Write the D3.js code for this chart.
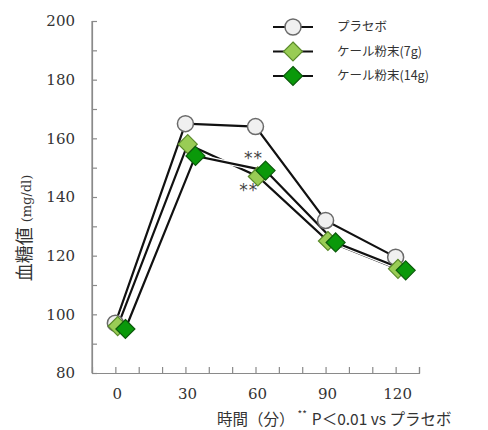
<!DOCTYPE html>
<html><head><meta charset="utf-8">
<script src="https://cdn.jsdelivr.net/npm/d3@7"></script>
<style>
body{margin:0;background:#fff}
.serif{font-family:"DejaVu Serif",serif}
.sans{font-family:"Noto Sans CJK JP",sans-serif}
</style>
</head><body>
<script>
const times = [0, 30, 60, 90, 120];
const placebo = [97, 165, 164, 132, 119.5];
const kale7g = [96, 158, 147, 125, 115.5];
const kale14g = [95, 154, 149, 124.5, 115];
const seriesNames = ["プラセボ", "ケール粉末(7g)", "ケール粉末(14g)"];
const yTicks = [80, 100, 120, 140, 160, 180, 200];
const xTickLabels = [0, 30, 60, 90, 120];

const W = 488, H = 430;
const svg = d3.select("body").append("svg").attr("width", W).attr("height", H);
const x = d3.scaleLinear().domain([-10, 130]).range([92, 419]);
const y = d3.scaleLinear().domain([80, 200]).range([373, 21]);
const axisColor = "#8a8a8a";

// Axes
const yAx = svg.append("g").attr("transform", "translate(92,0)")
  .call(d3.axisRight(y).tickValues(d3.range(80, 201, 10)).tickSize(5).tickFormat(""));
const xAx = svg.append("g").attr("transform", "translate(0,373)")
  .call(d3.axisTop(x).tickValues(d3.range(0, 131, 10)).tickSize(6).tickFormat(""));
[yAx, xAx].forEach(g => {
  g.select(".domain").attr("stroke", axisColor).attr("stroke-width", 1.2);
  g.selectAll(".tick line").attr("stroke", axisColor).attr("stroke-width", 1.2);
});
svg.append("line").attr("x1", 92).attr("x2", 92).attr("y1", 21).attr("y2", 373).attr("stroke", axisColor).attr("stroke-width", 1.2);

svg.append("g").selectAll("text").data(yTicks).join("text")
  .attr("class", "serif")
  .attr("x", 75).attr("y", d => y(d)).attr("dy", "0.35em")
  .attr("text-anchor", "end")
  .attr("font-size", 15).attr("fill", "#333").text(d => d);
svg.append("g").selectAll("text").data(xTickLabels).join("text")
  .attr("class", "serif")
  .attr("x", d => x(d) + 2).attr("y", 399)
  .attr("text-anchor", "middle")
  .attr("font-size", 15).attr("fill", "#333").text(d => d);

// Y label
const yl = svg.append("text").attr("transform", "translate(31,228) rotate(-90)")
  .attr("text-anchor", "middle").attr("fill", "#333");
yl.append("tspan").attr("class", "sans").attr("font-size", 18).text("血糖値");
yl.append("tspan").attr("class", "serif").attr("font-size", 13).attr("dx", 5).text("(mg/dl)");

// X label
const xl = svg.append("text").attr("class", "sans").attr("x", 217).attr("y", 425).attr("fill", "#333")
  .attr("font-size", 15.5);
xl.append("tspan").text("時間（分）");
xl.append("tspan").attr("dx", 3).attr("font-size", 10).attr("dy", -7).text("**");
xl.append("tspan").attr("dx", 5).attr("dy", 7).text("P＜0.01 vs プラセボ");

// Series
const series = [
  { name: seriesNames[0], vals: placebo, off: 0, shape: "circle", fill: "#f0f0f0", stroke: "#6a6a6a" },
  { name: seriesNames[1], vals: kale7g, off: 1, shape: "diamond", fill: "#99cc55", stroke: "#5a8a2a" },
  { name: seriesNames[2], vals: kale14g, off: 4.3, shape: "diamond", fill: "#0a990a", stroke: "#0b5a0b" }
];
const line = d3.line().x(d => x(d[0])).y(d => y(d[1]));

function marker(g, s, cx, cy) {
  if (s.shape === "circle") {
    g.append("circle").attr("cx", cx).attr("cy", cy).attr("r", 8)
      .attr("fill", s.fill).attr("stroke", s.stroke).attr("stroke-width", 1.5);
  } else {
    const r = 9.5;
    g.append("path").attr("d", `M${cx},${cy - r}L${cx + r},${cy}L${cx},${cy + r}L${cx - r},${cy}Z`)
      .attr("fill", s.fill).attr("stroke", s.stroke).attr("stroke-width", 1.2);
  }
}

series.forEach(s => {
  const pts = times.map((t, i) => [t + s.off, s.vals[i]]);
  svg.append("path").attr("d", line(pts)).attr("fill", "none")
    .attr("stroke", "#fff").attr("stroke-width", 4.5);
  svg.append("path").attr("d", line(pts)).attr("fill", "none")
    .attr("stroke", "#111").attr("stroke-width", 2.2);
});
series.forEach(s => {
  const g = svg.append("g");
  times.forEach((t, i) => marker(g, s, x(t + s.off), y(s.vals[i])));
});

// significance stars
svg.append("text").attr("x", x(60 + series[2].off) - 12).attr("y", y(kale14g[2]) - 7)
  .attr("text-anchor", "middle").style("font-family", "'DejaVu Sans', sans-serif").attr("font-size", 17)
  .attr("fill", "#444").attr("letter-spacing", 1).text("**");
svg.append("text").attr("x", x(60 + series[1].off) - 9).attr("y", y(kale7g[2]) + 20)
  .attr("text-anchor", "middle").style("font-family", "'DejaVu Sans', sans-serif").attr("font-size", 17)
  .attr("fill", "#444").attr("letter-spacing", 1).text("**");

// Legend
series.forEach((s, i) => {
  const ly = 27 + i * 24.5;
  const g = svg.append("g");
  g.append("line").attr("x1", 273).attr("x2", 313).attr("y1", ly).attr("y2", ly)
    .attr("stroke", "#111").attr("stroke-width", 2.2);
  marker(g, s, 293, ly);
  g.append("text").attr("class", "sans").attr("x", 337).attr("y", ly).attr("dy", "0.35em")
    .attr("font-size", 12.5).attr("fill", "#333")
    .text(s.name);
});
</script>
</body></html>
